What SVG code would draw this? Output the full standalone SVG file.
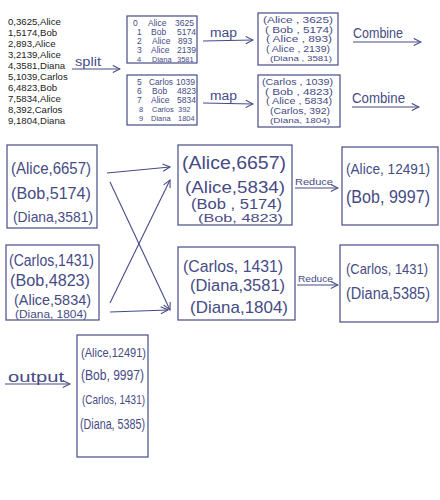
<svg xmlns="http://www.w3.org/2000/svg" width="440" height="500" viewBox="0 0 440 500">
<style>
.in{font-family:"Liberation Sans",Arial,sans-serif;font-size:9.6px;fill:#222}
.ink{font-family:"Liberation Sans",Arial,sans-serif;fill:#464b85}
.box{fill:none;stroke:#464b85;stroke-width:1.2}
.ln{fill:none;stroke:#464b85;stroke-width:1.1}
.t9{font-size:8.5px}
</style>
<defs>
<marker id="ah" viewBox="0 0 10 10" refX="9" refY="5" markerWidth="9" markerHeight="9" markerUnits="userSpaceOnUse" orient="auto">
<path d="M1,1 L9,5 L1,9" fill="none" stroke="#464b85" stroke-width="1.2"/>
</marker>
</defs>
<rect width="440" height="500" fill="#fff"/>

<g id="input">
<text class="in" x="8" y="25">0,3625,Alice</text>
<text class="in" x="8" y="36">1,5174,Bob</text>
<text class="in" x="8" y="47">2,893,Alice</text>
<text class="in" x="8" y="58">3,2139,Alice</text>
<text class="in" x="8" y="69">4,3581,Diana</text>
<text class="in" x="8" y="80">5,1039,Carlos</text>
<text class="in" x="8" y="91">6,4823,Bob</text>
<text class="in" x="8" y="102">7,5834,Alice</text>
<text class="in" x="8" y="113">8,392,Carlos</text>
<text class="in" x="8" y="124">9,1804,Diana</text>
</g>

<g id="split1">
<rect class="box" x="127" y="16" width="70" height="47"/>
<g class="ink t9">
<text x="133" y="26">0</text><text x="148" y="26">Alice</text><text x="175" y="26">3625</text>
<text x="137" y="35">1</text><text x="151" y="35">Bob</text><text x="177" y="35">5174</text>
<text x="137" y="44">2</text><text x="152" y="44">Alice</text><text x="178" y="44">893</text>
<text x="137" y="53">3</text><text x="151" y="53">Alice</text><text x="177" y="53">2139</text>
<text x="137" y="61.5" font-size="7.5">4</text><text x="152" y="61.5" font-size="7.5">Diana</text><text x="177" y="61.5" font-size="7.5">3581</text>
</g>
</g>

<g id="split2">
<rect class="box" x="127" y="75" width="70" height="50"/>
<g class="ink t9">
<text x="137" y="85">5</text><text x="149" y="85" textLength="24" lengthAdjust="spacingAndGlyphs">Carlos</text><text x="176" y="85">1039</text>
<text x="137" y="94">6</text><text x="152" y="94">Bob</text><text x="177" y="94">4823</text>
<text x="137" y="103">7</text><text x="151" y="103">Alice</text><text x="177" y="103">5834</text>
<text x="139" y="112" font-size="7.5">8</text><text x="152" y="112" font-size="7.5">Carlos</text><text x="178" y="112" font-size="7.5">392</text>
<text x="139" y="121" font-size="7.5">9</text><text x="151" y="121" font-size="7.5">Diana</text><text x="178" y="121" font-size="7.5">1804</text>
</g>
</g>

<g id="map1">
<rect class="box" x="258" y="13" width="80" height="52"/>
<g class="ink">
<text x="263" y="23" font-size="9" textLength="70" lengthAdjust="spacingAndGlyphs">(Alice , 3625)</text>
<text x="265" y="32.5" font-size="9" textLength="68" lengthAdjust="spacingAndGlyphs">( Bob , 5174)</text>
<text x="266" y="42" font-size="8.5" textLength="66" lengthAdjust="spacingAndGlyphs">( Alice , 893)</text>
<text x="266" y="51.5" font-size="8.5" textLength="64" lengthAdjust="spacingAndGlyphs">( Alice , 2139)</text>
<text x="270" y="61" font-size="8" textLength="62" lengthAdjust="spacingAndGlyphs">(Diana , 3581)</text>
</g>
</g>

<g id="map2">
<rect class="box" x="258" y="75" width="82" height="52"/>
<g class="ink">
<text x="262" y="85" font-size="9" textLength="71" lengthAdjust="spacingAndGlyphs">(Carlos , 1039)</text>
<text x="265" y="94.5" font-size="9" textLength="68" lengthAdjust="spacingAndGlyphs">( Bob , 4823)</text>
<text x="266" y="104" font-size="8.5" textLength="66" lengthAdjust="spacingAndGlyphs">( Alice , 5834)</text>
<text x="270" y="113.5" font-size="8.5" textLength="60" lengthAdjust="spacingAndGlyphs">(Carlos, 392)</text>
<text x="270" y="123" font-size="8" textLength="60" lengthAdjust="spacingAndGlyphs">(Diana, 1804)</text>
</g>
</g>

<g id="combine1">
<rect class="box" x="7" y="145" width="90" height="83"/>
<g class="ink">
<text x="11" y="174" font-size="17" textLength="80" lengthAdjust="spacingAndGlyphs">(Alice,6657)</text>
<text x="11" y="199" font-size="17" textLength="80" lengthAdjust="spacingAndGlyphs">(Bob,5174)</text>
<text x="13" y="222" font-size="15" textLength="80" lengthAdjust="spacingAndGlyphs">(Diana,3581)</text>
</g>
</g>

<g id="combine2">
<rect class="box" x="6" y="245" width="93" height="75"/>
<g class="ink">
<text x="9" y="266" font-size="16" textLength="85" lengthAdjust="spacingAndGlyphs">(Carlos,1431)</text>
<text x="10" y="286" font-size="16" textLength="80" lengthAdjust="spacingAndGlyphs">(Bob,4823)</text>
<text x="14" y="305" font-size="15" textLength="77" lengthAdjust="spacingAndGlyphs">(Alice,5834)</text>
<text x="15" y="318" font-size="10" textLength="72" lengthAdjust="spacingAndGlyphs">(Diana, 1804)</text>
</g>
</g>

<g id="shuffle1">
<rect class="box" x="178" y="145" width="114" height="80"/>
<g class="ink">
<text x="182" y="169" font-size="18" textLength="104" lengthAdjust="spacingAndGlyphs">(Alice,6657)</text>
<text x="185" y="193" font-size="16" textLength="100" lengthAdjust="spacingAndGlyphs">(Alice,5834)</text>
<text x="191" y="209" font-size="15" textLength="91" lengthAdjust="spacingAndGlyphs">(Bob , 5174)</text>
<text x="198" y="222" font-size="11" textLength="85" lengthAdjust="spacingAndGlyphs">(Bob, 4823)</text>
</g>
</g>

<g id="shuffle2">
<rect class="box" x="178" y="247" width="117" height="73"/>
<g class="ink">
<text x="183" y="272" font-size="17" textLength="100" lengthAdjust="spacingAndGlyphs">(Carlos, 1431)</text>
<text x="190" y="291" font-size="16" textLength="95" lengthAdjust="spacingAndGlyphs">(Diana,3581)</text>
<text x="190" y="313" font-size="17" textLength="98" lengthAdjust="spacingAndGlyphs">(Diana,1804)</text>
</g>
</g>

<g id="reduce1">
<rect class="box" x="342" y="147" width="96" height="78"/>
<g class="ink">
<text x="346" y="174" font-size="15" textLength="84" lengthAdjust="spacingAndGlyphs">(Alice, 12491)</text>
<text x="346" y="203" font-size="18" textLength="84" lengthAdjust="spacingAndGlyphs">(Bob, 9997)</text>
</g>
</g>

<g id="reduce2">
<rect class="box" x="340" y="245" width="98" height="77"/>
<g class="ink">
<text x="346" y="274" font-size="15" textLength="82" lengthAdjust="spacingAndGlyphs">(Carlos, 1431)</text>
<text x="346" y="299" font-size="16" textLength="84" lengthAdjust="spacingAndGlyphs">(Diana,5385)</text>
</g>
</g>

<g id="output">
<rect class="box" x="77" y="335" width="71" height="122"/>
<g class="ink">
<text x="81" y="357" font-size="13" textLength="65" lengthAdjust="spacingAndGlyphs">(Alice,12491)</text>
<text x="81" y="380" font-size="14" textLength="63" lengthAdjust="spacingAndGlyphs">(Bob, 9997)</text>
<text x="82" y="404" font-size="13" textLength="63" lengthAdjust="spacingAndGlyphs">(Carlos, 1431)</text>
<text x="80" y="429" font-size="14" textLength="65" lengthAdjust="spacingAndGlyphs">(Diana, 5385)</text>
</g>
</g>

<g id="connectors">
<line class="ln" x1="72" y1="69" x2="120" y2="69" marker-end="url(#ah)"/>
<text class="ink" x="75" y="66" font-size="12" textLength="26" lengthAdjust="spacingAndGlyphs">split</text>
<line class="ln" x1="203" y1="41" x2="253" y2="40" marker-end="url(#ah)"/>
<text class="ink" x="210" y="37" font-size="12" textLength="27" lengthAdjust="spacingAndGlyphs">map</text>
<line class="ln" x1="203" y1="103" x2="253" y2="104" marker-end="url(#ah)"/>
<text class="ink" x="210" y="100" font-size="12" textLength="27" lengthAdjust="spacingAndGlyphs">map</text>
<line class="ln" x1="353" y1="42" x2="421" y2="42" marker-end="url(#ah)"/>
<text class="ink" x="353" y="38" font-size="14" textLength="50" lengthAdjust="spacingAndGlyphs">Combine</text>
<line class="ln" x1="352" y1="107" x2="419" y2="107" marker-end="url(#ah)"/>
<text class="ink" x="352" y="103" font-size="14" textLength="53" lengthAdjust="spacingAndGlyphs">Combine</text>
<line class="ln" x1="107" y1="173" x2="170" y2="167" marker-end="url(#ah)"/>
<line class="ln" x1="110" y1="182" x2="170" y2="310" marker-end="url(#ah)"/>
<line class="ln" x1="110" y1="303" x2="170" y2="180" marker-end="url(#ah)"/>
<line class="ln" x1="110" y1="312" x2="168" y2="310" marker-end="url(#ah)"/>
<line class="ln" x1="295" y1="188" x2="338" y2="188" marker-end="url(#ah)"/>
<text class="ink" x="295" y="185" font-size="9" textLength="38" lengthAdjust="spacingAndGlyphs">Reduce</text>
<line class="ln" x1="297" y1="285" x2="338" y2="285" marker-end="url(#ah)"/>
<text class="ink" x="298" y="282" font-size="9" textLength="35" lengthAdjust="spacingAndGlyphs">Reduce</text>
<line class="ln" x1="5" y1="384" x2="70" y2="384" marker-end="url(#ah)"/>
<text class="ink" x="8" y="382" font-size="15" textLength="56" lengthAdjust="spacingAndGlyphs">output</text>
</g>
</svg>
